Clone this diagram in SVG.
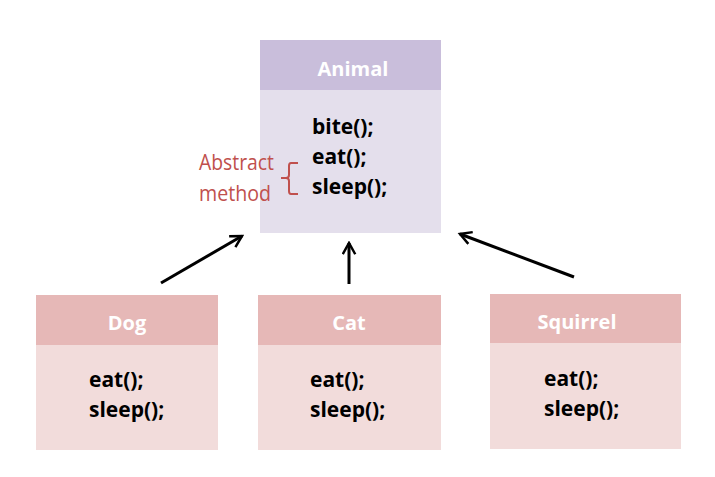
<svg xmlns="http://www.w3.org/2000/svg" width="715" height="477" viewBox="0 0 715 477">
<style>
.title{font-family:"Open Sans","Liberation Sans",sans-serif;font-weight:bold;font-size:20px;fill:#fff;text-anchor:middle}
.m{font-family:"Open Sans","Liberation Sans",sans-serif;font-weight:bold;font-size:21px;fill:#000}
.ah{fill:#c9bedb}.ab{fill:#e4dfec}
.ch{fill:#e6b8b7}.cb{fill:#f2dcdb}
.note{font-family:"Open Sans","Liberation Sans",sans-serif;font-size:22px;fill:#c0504d}
.conn line{stroke:#000;stroke-width:3}
</style>
<defs>
<marker id="arr" viewBox="0 0 12 12" refX="10" refY="6" markerWidth="5" markerHeight="5" orient="auto" markerUnits="strokeWidth">
<path d="M1,1 L10,6 L1,11" fill="none" stroke="#000" stroke-width="2"/>
</marker>
</defs>
<rect width="715" height="477" fill="#fff"/>
<g id="animal">
<rect class="ab" x="260" y="40" width="181" height="193"/>
<rect class="ah" x="260" y="40" width="181" height="50"/>
<text class="title" x="353" y="76">Animal</text>
<text class="m" x="312" y="134">bite();</text>
<text class="m" x="312" y="164">eat();</text>
<text class="m" x="312" y="194">sleep();</text>
</g>
<g id="abstract-note">
<text class="note" x="199" y="170" textLength="75" lengthAdjust="spacingAndGlyphs">Abstract</text>
<text class="note" x="199" y="201" textLength="72" lengthAdjust="spacingAndGlyphs">method</text>
<path d="M298,163 H291 Q289,163 289,166 V175 Q289,178 286,178 H281 M286,178 Q289,178 289,181 V191 Q289,194 291,194 H298" fill="none" stroke="#c0504d" stroke-width="2"/>
</g>
<g id="dog">
<rect class="cb" x="36" y="295" width="182" height="155"/>
<rect class="ch" x="36" y="295" width="182" height="50"/>
<text class="title" x="127" y="330">Dog</text>
<text class="m" x="89" y="387">eat();</text>
<text class="m" x="89" y="417">sleep();</text>
</g>
<g id="cat">
<rect class="cb" x="258" y="295" width="183" height="155"/>
<rect class="ch" x="258" y="295" width="183" height="50"/>
<text class="title" x="349" y="330">Cat</text>
<text class="m" x="310" y="387">eat();</text>
<text class="m" x="310" y="417">sleep();</text>
</g>
<g id="squirrel">
<rect class="cb" x="490" y="294" width="191" height="155"/>
<rect class="ch" x="490" y="294" width="191" height="49"/>
<text class="title" x="577" y="329">Squirrel</text>
<text class="m" x="544" y="386">eat();</text>
<text class="m" x="544" y="416">sleep();</text>
</g>
<g id="connectors" class="conn">
<line x1="161" y1="283" x2="242" y2="236" marker-end="url(#arr)"/>
<line x1="349" y1="284" x2="349" y2="243" marker-end="url(#arr)"/>
<line x1="574" y1="277" x2="460" y2="234" marker-end="url(#arr)"/>
</g>
</svg>
